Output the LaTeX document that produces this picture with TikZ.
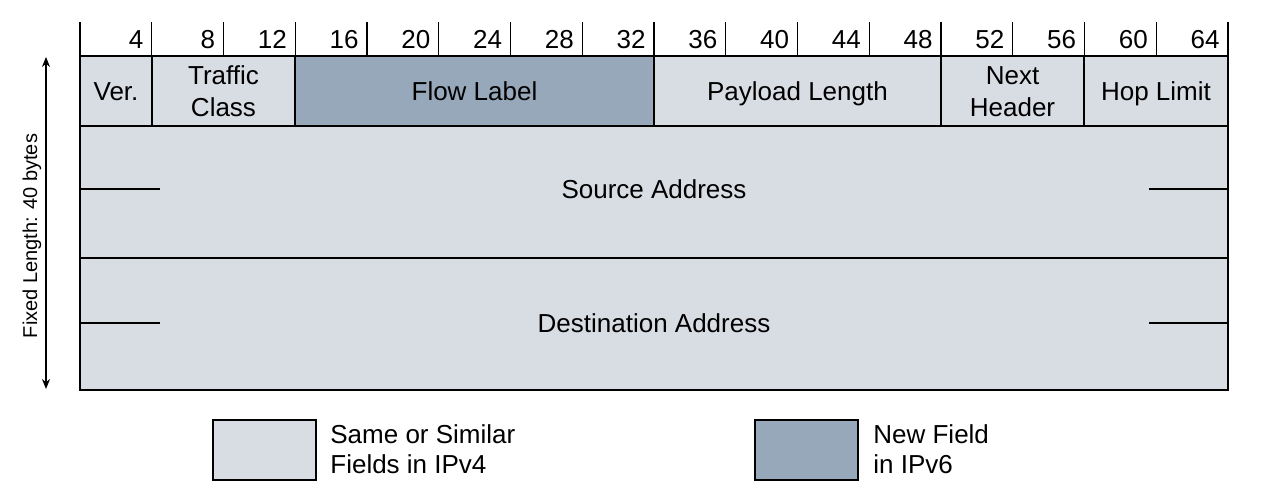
\documentclass[tikz,border=0pt]{standalone}
\usepackage{fontspec}
\setmainfont{Liberation Sans}
\usetikzlibrary{arrows.meta}
\definecolor{lightf}{HTML}{D8DCE3}
\definecolor{darkf}{HTML}{97A8BA}
\begin{document}
\begin{tikzpicture}[x=0.5pt,y=-0.5pt,
  field/.style={draw=black,line width=0.9pt,fill=lightf,inner sep=0pt},
  newfield/.style={field,fill=darkf},
  ftext/.style={anchor=base,align=center,inner sep=0pt,font=\fontsize{13}{16}\selectfont},
  one/.style={yshift=-4.65pt},
  two/.style={yshift=-12.65pt},
  num/.style={anchor=base east,inner sep=0pt,font=\fontsize{13}{15}\selectfont},
  tick/.style={line width=0.7pt},
  leg/.style={anchor=base west,align=left,inner sep=0pt,font=\fontsize{13}{15}\selectfont},
  legbox/.style={draw=black,line width=0.9pt,minimum width=51.5pt,minimum height=30pt,inner sep=0pt}]
\useasboundingbox (0,0) rectangle (1282,502);
% ruler
\foreach \i in {0,...,16} {
  \coordinate (t\i) at ({80+71.75*\i},22);
  \coordinate (b\i) at ({80+71.75*\i},56);
  \draw[tick] (t\i) -- (b\i);
}
\foreach \i in {1,...,16} {
  \pgfmathtruncatemacro{\n}{4*\i}
  \node[num] (n\i) at ({80+71.75*\i-8},49) {\n};
}
% fields (width/height in pt = px/2)
\node[field,minimum width=36pt,minimum height=35pt] (ver) at (116,91) {};
\node[field,minimum width=71.5pt,minimum height=35pt] (tc) at (223.5,91) {};
\node[newfield,minimum width=179.5pt,minimum height=35pt] (flow) at (474.5,91) {};
\node[field,minimum width=143.5pt,minimum height=35pt] (pay) at (797.5,91) {};
\node[field,minimum width=71.5pt,minimum height=35pt] (next) at (1012.5,91) {};
\node[field,minimum width=72pt,minimum height=35pt] (hop) at (1156,91) {};
\node[field,minimum width=574pt,minimum height=66pt] (src) at (654,192) {};
\node[field,minimum width=574pt,minimum height=66pt] (dst) at (654,324) {};
% field texts
\node[ftext,one] (verT) at (ver.center) {Ver.};
\node[ftext,two] (tcT) at (tc.center) {Traffic\\Class};
\node[ftext,one] (flowT) at (flow.center) {Flow Label};
\node[ftext,one] (payT) at (pay.center) {Payload Length};
\node[ftext,two] (nextT) at (next.center) {Next\\Header};
\node[ftext,one] (hopT) at (hop.center) {Hop Limit};
\coordinate (sl1) at (160,189); \coordinate (sr1) at (1149,189);
\coordinate (sl2) at (160,323); \coordinate (sr2) at (1149,323);
\node[ftext,one] (srcT) at (src.center |- sl1) {Source Address};
\node[ftext,one] (dstT) at (dst.center |- sl2) {Destination Address};
% short lines
\draw[line width=0.8pt] (src.west |- sl1) -- (sl1);
\draw[line width=0.8pt] (sr1) -- (src.east |- sr1);
\draw[line width=0.8pt] (dst.west |- sl2) -- (sl2);
\draw[line width=0.8pt] (sr2) -- (dst.east |- sr2);
% fixed length arrow
\coordinate (atop) at (46,57);
\coordinate (abot) at (46,389);
\draw[line width=0.6pt,{Stealth[length=5pt,width=4pt]}-{Stealth[length=5pt,width=4pt]}] (atop) -- (abot);
\node[rotate=90,inner sep=0pt,font=\fontsize{10}{12}\selectfont] (fl) at (32,236) {Fixed Length: 40 bytes};
% legend
\node[legbox,fill=lightf] (l1) at (264.5,450) {};
\node[leg] (l1t) at (330,474) {Same or Similar\\Fields in IPv4};
\node[legbox,fill=darkf] (l2) at (806.5,450) {};
\node[leg] (l2t) at (873,474) {New Field\\in IPv6};
\end{tikzpicture}
\end{document}
